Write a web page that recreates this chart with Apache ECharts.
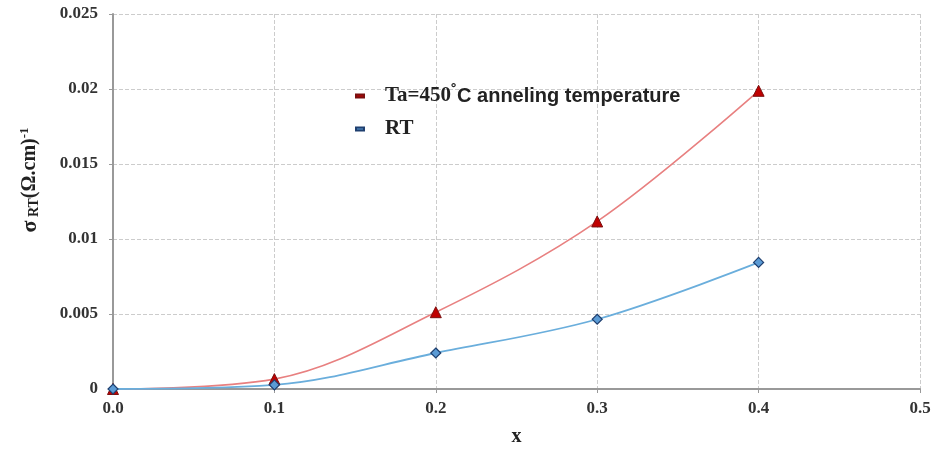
<!DOCTYPE html>
<html><head><meta charset="utf-8">
<script src="https://cdn.jsdelivr.net/npm/echarts@6/dist/echarts.min.js"></script>
<style>html,body{margin:0;padding:0;background:#fff}#c{width:936px;height:452px}</style>
</head><body><div id="c"></div>
<script>
const xValues = [0.0, 0.1, 0.2, 0.3, 0.4];
const annealed = [0.0, 0.00066, 0.00512, 0.01117, 0.01988];
const roomTemp = [0.0, 0.00027, 0.0024, 0.00465, 0.00844];
const seriesNames = ['Ta=450˚C anneling temperature', 'RT'];

const chart = echarts.init(document.getElementById('c'));
const serif = '"Liberation Serif", "Times New Roman", serif';
const sans = '"Liberation Sans", Arial, sans-serif';
chart.setOption({
  animation: false,
  grid: {left: 113, right: 16, top: 14, bottom: 62},
  legend: {
    left: 350, top: 78, orient: 'vertical', itemGap: 12,
    icon: 'rect', itemWidth: 8, itemHeight: 3,
    data: seriesNames,
    formatter: function (n) {
      if (n === 'RT') return '{s|RT}';
      return '{s|Ta=450}{d|˚}{a|C anneling temperature}';
    },
    textStyle: {
      padding: [0, 0, 0, 16],
      rich: {
        s: {fontFamily: serif, fontWeight: 'bold', fontSize: 21, color: '#222'},
        d: {fontFamily: sans, fontWeight: 'bold', fontSize: 18, color: '#222', verticalAlign: 'top', padding: [0,0,8,0]},
        a: {fontFamily: sans, fontWeight: 'bold', fontSize: 20, color: '#222'}
      }
    }
  },
  xAxis: {
    type: 'value', min: 0, max: 0.5, interval: 0.1,
    name: 'x', nameLocation: 'middle', nameGap: 38,
    nameTextStyle: {fontFamily: serif, fontWeight: 'bold', fontSize: 20, color: '#222'},
    axisLine: {lineStyle: {color: '#999', width: 2}},
    axisTick: {show: true, length: 4, lineStyle: {color: '#999'}},
    axisLabel: {fontFamily: serif, fontWeight: 'bold', fontSize: 17, color: '#333', margin: 11,
      formatter: v => v.toFixed(1)},
    splitLine: {show: true, lineStyle: {color: '#ccc', type: 'dashed'}}
  },
  yAxis: {
    type: 'value', min: 0, max: 0.025, interval: 0.005,
    axisLine: {show: true, lineStyle: {color: '#999', width: 2}},
    axisTick: {show: true, length: 4, lineStyle: {color: '#999'}},
    axisLabel: {fontFamily: serif, fontWeight: 'bold', fontSize: 17, color: '#333', margin: 15,
      formatter: v => v === 0 ? '0' : String(parseFloat(v.toFixed(3)))},
    splitLine: {show: true, lineStyle: {color: '#ccc', type: 'dashed'}}
  },
  graphic: [{
    type: 'text', rotation: Math.PI / 2,
    x: 30, y: 180,
    style: {
      text: '{g|σ}{sub| RT}{p|(Ω.cm)}{sup|-1}',
      rich: {
        g: {fontFamily: serif, fontWeight: 'bold', fontSize: 22, fill: '#222'},
        sub: {fontFamily: serif, fontWeight: 'bold', fontSize: 14, fill: '#222', padding: [8,0,0,0]},
        p: {fontFamily: serif, fontWeight: 'bold', fontSize: 20, fill: '#222'},
        sup: {fontFamily: serif, fontWeight: 'bold', fontSize: 13, fill: '#222', padding: [0,0,10,0]}
      },
      align: 'center', verticalAlign: 'middle'
    }
  }],
  series: [
    {
      name: seriesNames[0], type: 'line', smooth: 0.35,
      data: xValues.map((x, i) => [x, annealed[i]]),
      symbol: 'triangle', symbolSize: 11,
      lineStyle: {color: '#e88080', width: 1.6},
      itemStyle: {color: '#c00000', borderColor: '#7a1010', borderWidth: 1}
    },
    {
      name: seriesNames[1], type: 'line', smooth: 0.35,
      data: xValues.map((x, i) => [x, roomTemp[i]]),
      symbol: 'diamond', symbolSize: 10,
      lineStyle: {color: '#6aaedc', width: 1.8},
      itemStyle: {color: '#5b9bd5', borderColor: '#1f3f6f', borderWidth: 1.2}
    }
  ]
});
</script></body></html>
